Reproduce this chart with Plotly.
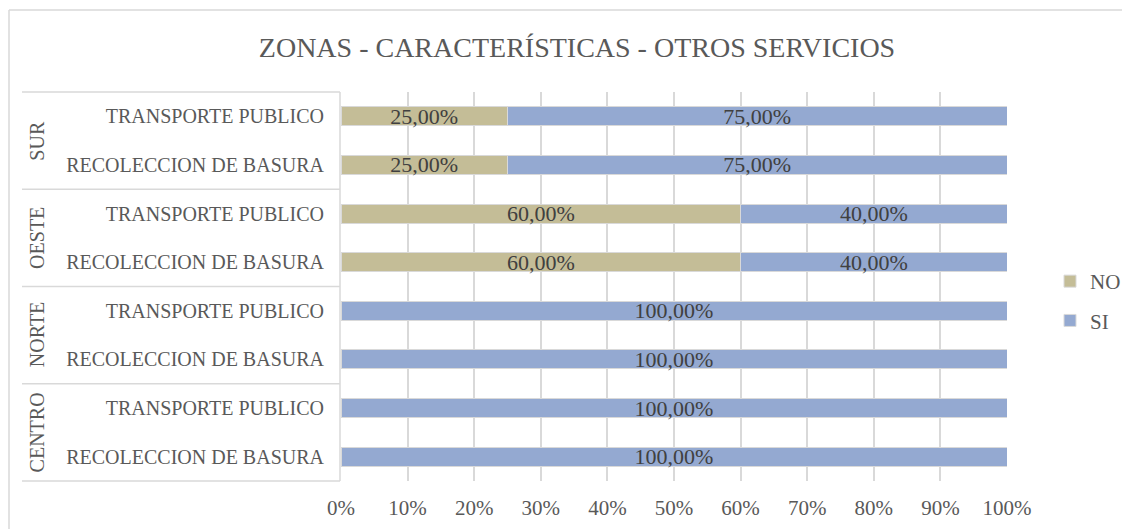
import plotly.graph_objects as go

# ---- data ----
zones = ["CENTRO", "CENTRO", "NORTE", "NORTE", "OESTE", "OESTE", "SUR", "SUR"]
services = ["RECOLECCION DE BASURA", "TRANSPORTE PUBLICO"] * 4
no_vals = [0, 0, 0, 0, 60, 60, 25, 25]
si_vals = [100, 100, 100, 100, 40, 40, 75, 75]
zone_order = ["CENTRO", "NORTE", "OESTE", "SUR"]
x_ticks = [0, 10, 20, 30, 40, 50, 60, 70, 80, 90, 100]
x_tick_labels = [f"{v}%" for v in x_ticks]

title = "ZONAS - CARACTERÍSTICAS - OTROS SERVICIOS"
FONT = "Liberation Serif, Times New Roman, serif"
GRAY = "#595959"
DARK = "#404040"
LINE = "#D9D9D9"

keys = [f"{z}|{s}" for z, s in zip(zones, services)]


def fmt(v):
    return "" if v == 0 else f"{v:.2f}%".replace(".", ",")


fig = go.Figure()
fig.add_trace(go.Bar(
    name="NO", y=keys, x=no_vals, orientation="h",
    marker=dict(color="#C4BD97", line=dict(color=LINE, width=1)),
    text=[fmt(v) for v in no_vals], textposition="inside",
    insidetextanchor="middle", textangle=0, constraintext="none",
    textfont=dict(family=FONT, size=22, color=DARK),
    legendgroup="no", hoverinfo="x+y",
))
fig.add_trace(go.Bar(
    name="SI", y=keys, x=si_vals, orientation="h",
    marker=dict(color="#94A9D1", line=dict(color=LINE, width=1)),
    text=[fmt(v) for v in si_vals], textposition="inside",
    insidetextanchor="middle", textangle=0, constraintext="none",
    textfont=dict(family=FONT, size=22, color=DARK),
    legendgroup="si", hoverinfo="x+y",
))

# The page body has an 8px margin; positions below are screen pixels,
# converted into figure pixels by subtracting OFF.
OFF = 8
W, H = 1122, 521
L, R, T, B = 341 - OFF, 1007 - OFF, 92 - OFF, 481 - OFF
pw, ph = R - L, B - T


def px_x(p):
    return (p - OFF - L) / pw


def px_y(p):
    return (B - (p - OFF)) / ph


shapes = []
n_groups = len(zone_order)
for i in range(n_groups + 1):
    yy = i / n_groups
    shapes.append(dict(type="line", xref="paper", yref="paper",
                       x0=px_x(22), x1=px_x(340), y0=yy, y1=yy,
                       line=dict(color=LINE, width=1.5)))
shapes.append(dict(type="line", xref="paper", yref="paper",
                   x0=px_x(340), x1=px_x(340), y0=0, y1=1,
                   line=dict(color=LINE, width=1.5)))
# chart border (top and left visible)
shapes.append(dict(type="line", xref="paper", yref="paper",
                   x0=px_x(9), x1=px_x(1140), y0=px_y(10), y1=px_y(10),
                   line=dict(color=LINE, width=1.5)))
shapes.append(dict(type="line", xref="paper", yref="paper",
                   x0=px_x(9), x1=px_x(9), y0=px_y(10), y1=px_y(540),
                   line=dict(color=LINE, width=1.5)))

annotations = []
for i, z in enumerate(zone_order):
    annotations.append(dict(
        text=z, xref="paper", yref="paper", x=px_x(37), y=(2 * i + 1) / (2 * n_groups),
        xanchor="center", yanchor="middle", textangle=-90, showarrow=False,
        font=dict(family=FONT, size=20, color=GRAY),
    ))

fig.update_layout(
    width=W, height=H,
    margin=dict(l=L, r=W - R, t=T, b=H - B, pad=0, autoexpand=False),
    barmode="stack", bargap=0.61,
    paper_bgcolor="white", plot_bgcolor="white",
    font=dict(family=FONT, color=GRAY),
    title=dict(text=title, xref="container", yref="container",
               x=(577 - OFF) / W, y=1 - (47 - OFF) / H,
               xanchor="center", yanchor="middle",
               font=dict(family=FONT, size=28, color=GRAY)),
    xaxis=dict(range=[0, 100], tickvals=x_ticks, ticktext=x_tick_labels,
               showgrid=True, gridcolor=LINE, gridwidth=1.5,
               zeroline=False, showline=False, ticks="", automargin=False,
               ticklabelstandoff=12,
               tickfont=dict(family=FONT, size=21, color=GRAY)),
    yaxis=dict(categoryorder="array", categoryarray=keys,
               tickvals=keys, ticktext=services, automargin=False,
               showgrid=False, zeroline=False, showline=False, ticks="",
               ticklabelstandoff=16,
               tickfont=dict(family=FONT, size=20, color=GRAY)),
    legend=dict(x=px_x(1050), y=px_y(301), xanchor="left", yanchor="middle",
                traceorder="grouped", tracegroupgap=9, itemwidth=30,
                font=dict(family=FONT, size=21, color=GRAY),
                bgcolor="rgba(0,0,0,0)"),
    shapes=shapes, annotations=annotations,
)

fig.write_html("out.html")
